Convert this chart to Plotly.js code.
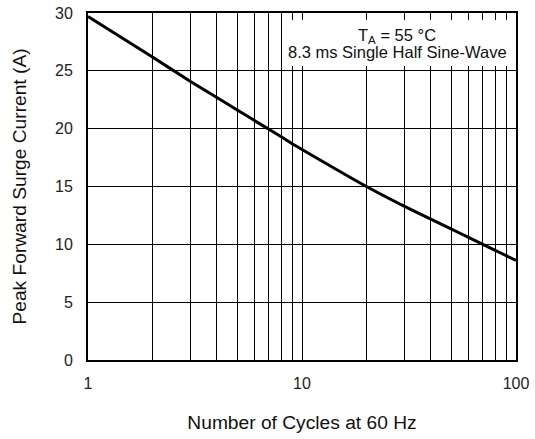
<!DOCTYPE html>
<html>
<head>
<meta charset="utf-8">
<script src="https://cdn.plot.ly/plotly-3.0.1.min.js"></script>
<style>
  html, body { margin: 0; padding: 0; background: #fff; }
  #chart { width: 535px; height: 439px; }
</style>
</head>
<body>
<div id="chart"></div>
<script>
// Data
const cycles = [1, 2, 3, 4, 5, 6, 7, 8, 9, 10, 20, 30, 40, 50, 60, 70, 80, 90, 100];
const surgeCurrent = [29.7, 26.2, 24.1, 22.7, 21.6, 20.7, 19.95, 19.3, 18.7, 18.2, 15.0, 13.3, 12.18, 11.31, 10.6, 10.0, 9.48, 9.02, 8.6];

// Axis ticks / gridlines
const xTickVals = [1, 2, 3, 4, 5, 6, 7, 8, 9, 10, 20, 30, 40, 50, 60, 70, 80, 90, 100];
const xTickText = ['1', '', '', '', '', '', '', '', '', '10', '', '', '', '', '', '', '', '', '100'];
const yTickVals = [0, 5, 10, 15, 20, 25, 30];
const yTickText = ['0', '5', '10', '15', '20', '25', '30'];

// Texts
const xTitle = 'Number of Cycles at 60 Hz';
const yTitle = 'Peak Forward Surge Current (A)';
const noteLine1 = 'T<sub>A</sub> = 55 °C';
const noteLine2 = '8.3 ms Single Half Sine-Wave';

const FONT = '"Liberation Sans", Arial, Helvetica, sans-serif';

const trace = {
  x: cycles,
  y: surgeCurrent,
  type: 'scatter',
  mode: 'lines',
  line: { color: '#000', width: 3, shape: 'spline', smoothing: 0.5 },
  hoverinfo: 'skip',
  showlegend: false
};

const layout = {
  width: 535,
  height: 439,
  margin: { l: 88, r: 19, t: 13, b: 79, pad: 0 },
  paper_bgcolor: '#fff',
  plot_bgcolor: '#fff',
  font: { family: FONT, size: 16, color: '#222' },
  xaxis: {
    type: 'log',
    range: [0, 2],
    tickmode: 'array',
    tickvals: xTickVals,
    ticktext: xTickText,
    ticks: '',
    ticklabelstandoff: 8,
    showgrid: true,
    gridcolor: '#000',
    gridwidth: 1,
    showline: true,
    linecolor: '#000',
    linewidth: 2,
    mirror: true,
    zeroline: false,
    fixedrange: true,
    tickfont: { family: FONT, size: 16, color: '#222' },
    title: { text: xTitle, font: { family: FONT, size: 19.2, color: '#111' }, standoff: 24 }
  },
  yaxis: {
    range: [0, 30],
    tickmode: 'array',
    tickvals: yTickVals,
    ticktext: yTickText,
    ticks: '',
    ticklabelstandoff: 10,
    showgrid: true,
    gridcolor: '#000',
    gridwidth: 1,
    showline: true,
    linecolor: '#000',
    linewidth: 2,
    mirror: true,
    zeroline: false,
    fixedrange: true,
    tickfont: { family: FONT, size: 16, color: '#222' },
    title: { text: yTitle, font: { family: FONT, size: 19.2, color: '#111' }, standoff: 23 }
  },
  shapes: [{
    type: 'rect', xref: 'paper', yref: 'paper',
    x0: 0.4556, x1: 0.997, y0: 0.847, y1: 0.980,
    fillcolor: '#fff', line: { width: 0 }, layer: 'above'
  }],
  annotations: [
    {
      xref: 'paper', yref: 'paper', x: 0.722, y: 0.933,
      xanchor: 'center', yanchor: 'middle', showarrow: false,
      text: noteLine1, font: { family: FONT, size: 16.5, color: '#111' }
    },
    {
      xref: 'paper', yref: 'paper', x: 0.722, y: 0.889,
      xanchor: 'center', yanchor: 'middle', showarrow: false,
      text: noteLine2, font: { family: FONT, size: 16.5, color: '#111' }
    }
  ]
};

Plotly.newPlot('chart', [trace], layout, { staticPlot: true, displayModeBar: false });
</script>
</body>
</html>
